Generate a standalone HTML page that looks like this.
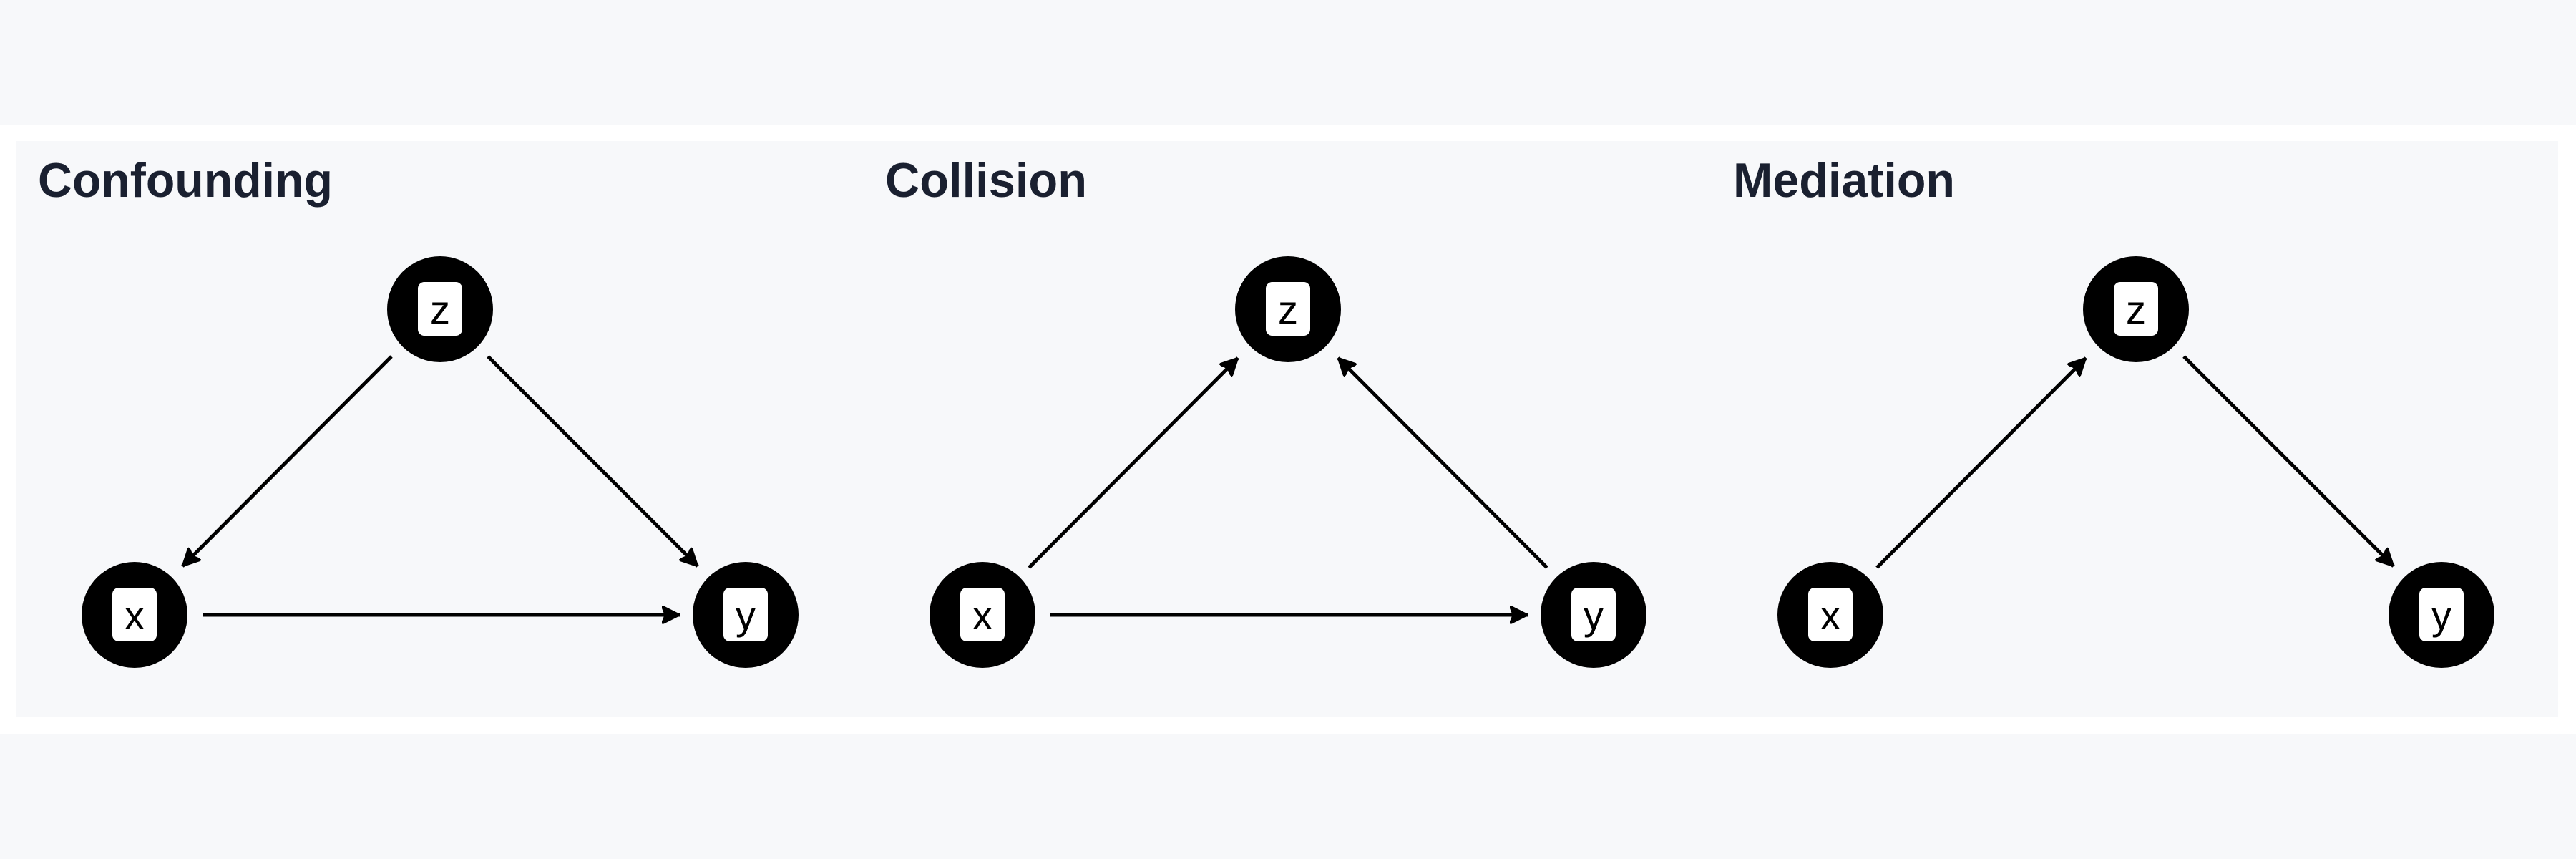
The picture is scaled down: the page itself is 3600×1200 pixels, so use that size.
<!DOCTYPE html>
<html><head><meta charset="utf-8"><style>
html,body{margin:0;padding:0;background:#f7f8fa;}
svg{display:block}
</style></head><body>
<svg width="3600" height="1200" viewBox="0 0 3600 1200" xmlns="http://www.w3.org/2000/svg">
<defs>
<marker id="a" viewBox="0 0 10 10" refX="10" refY="5" markerWidth="5" markerHeight="5" orient="auto" markerUnits="strokeWidth">
<path d="M0,0 L10,5 L0,10 L2,5 z" fill="#000" stroke="#000" stroke-width="1" stroke-linejoin="round"/>
</marker>
<g id="n"><circle r="74" fill="#000"/><rect x="-31" y="-38" width="62" height="75" rx="9" fill="#fff"/></g>
</defs>
<rect width="3600" height="1200" fill="#f7f8fa"/>
<rect x="0" y="174" width="3600" height="23" fill="#fff"/>
<rect x="0" y="1002" width="3600" height="24" fill="#fff"/>
<rect x="0" y="197" width="23" height="805" fill="#fff"/>
<rect x="3575" y="197" width="25" height="805" fill="#fff"/>
<g font-family="Liberation Sans, Arial, sans-serif" font-weight="bold" font-size="68" fill="#1a2030">
<text x="53" y="275" textLength="412" lengthAdjust="spacingAndGlyphs">Confounding</text>
<text x="1237" y="275" textLength="282" lengthAdjust="spacingAndGlyphs">Collision</text>
<text x="2422" y="275" textLength="310" lengthAdjust="spacingAndGlyphs">Mediation</text>
</g>
<g stroke="#000" stroke-width="5" fill="none" marker-end="url(#a)">
<line x1="547" y1="498" x2="255" y2="791"/>
<line x1="682" y1="498" x2="975" y2="791"/>
<line x1="283" y1="859" x2="950" y2="859"/>
<line x1="1438" y1="793" x2="1730" y2="500"/>
<line x1="2162" y1="793" x2="1870" y2="500"/>
<line x1="1468" y1="859" x2="2135" y2="859"/>
<line x1="2623" y1="793" x2="2915" y2="500"/>
<line x1="3052" y1="498" x2="3345" y2="791"/>
</g>
<g font-family="Liberation Sans, Arial, sans-serif" font-size="56" text-anchor="middle" fill="#000">
<use href="#n" x="615" y="432"/><text x="615" y="452">z</text>
<use href="#n" x="188" y="859"/><text x="188" y="879">x</text>
<use href="#n" x="1042" y="859"/><text x="1042" y="879">y</text>
<use href="#n" x="1800" y="432"/><text x="1800" y="452">z</text>
<use href="#n" x="1373" y="859"/><text x="1373" y="879">x</text>
<use href="#n" x="2227" y="859"/><text x="2227" y="879">y</text>
<use href="#n" x="2985" y="432"/><text x="2985" y="452">z</text>
<use href="#n" x="2558" y="859"/><text x="2558" y="879">x</text>
<use href="#n" x="3412" y="859"/><text x="3412" y="879">y</text>
</g>
</svg>
</body></html>
